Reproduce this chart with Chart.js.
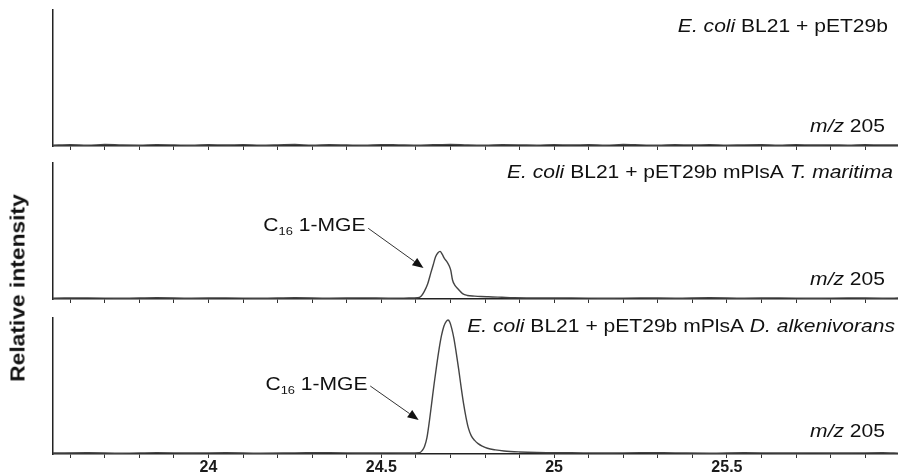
<!DOCTYPE html>
<html>
<head>
<meta charset="utf-8">
<script src="https://cdn.jsdelivr.net/npm/chart.js@4/dist/chart.umd.min.js"></script>
<style>
  html, body { margin: 0; padding: 0; background: #fff; }
  #wrap { position: relative; width: 898px; height: 475px; overflow: hidden; background: #fff; }
  canvas { position: absolute; left: 0; }
  #ylab { position: absolute; left: 18px; top: 288px; transform: translate(-50%, -50%) rotate(-90deg) scaleX(1.17);
          font: bold 19.5px "Liberation Sans", Arial, sans-serif; color: #111; white-space: nowrap; }
</style>
</head>
<body>
<div id="wrap">
  <canvas id="c1" width="898" height="150" style="top:0px"></canvas>
  <canvas id="c2" width="898" height="150" style="top:153px"></canvas>
  <canvas id="c3" width="898" height="167" style="top:308px"></canvas>
  <div id="ylab">Relative intensity</div>
</div>
<script>
// ---------------- DATA ----------------
const xMin = 23.55, xMax = 25.995;
const xTickStep = 0.1;
const xLabelEvery = 0.5;

const topRt = [23.55,23.60,23.65,23.70,23.75,23.80,23.85,23.90,23.95,24.00,24.05,24.10,24.15,24.20,24.25,24.30,24.35,24.40,24.45,24.50,24.55,24.60,24.65,24.70,24.75,24.80,24.85,24.90,24.95,25.00,25.05,25.10,25.15,25.20,25.25,25.30,25.35,25.40,25.45,25.50,25.55,25.60,25.65,25.70,25.75,25.80,25.85,25.90,25.95,26.00];
const topInt = [0.6,0.9,0.5,1.1,0.7,0.6,1.0,0.8,0.5,0.9,0.7,1.0,0.6,0.8,1.1,0.6,0.9,0.7,0.5,1.0,0.8,0.6,0.9,1.2,0.7,0.5,0.9,0.8,0.6,1.0,0.7,0.9,0.6,1.1,0.8,0.5,0.9,0.7,1.0,0.6,0.8,0.9,0.5,1.0,0.7,0.8,0.6,0.9,0.7,0.8];

const midRt = [23.55,23.65,23.75,23.85,23.95,24.05,24.15,24.25,24.35,24.45,24.52,24.58,24.605,24.615,24.624,24.634,24.643,24.650,24.657,24.664,24.670,24.676,24.682,24.691,24.697,24.701,24.706,24.713,24.720,24.735,24.749,24.770,24.788,24.810,24.837,24.860,24.885,24.95,25.05,25.15,25.25,25.35,25.45,25.55,25.65,25.75,25.85,25.95,26.00];
const midInt = [0.6,0.8,0.5,0.9,0.6,0.8,0.5,0.9,0.6,0.8,0.6,0.7,0.9,2.0,5.4,11,19,25,31,34,35,33,30,27,24,21,14,10,7.9,4.0,2.6,2.1,1.8,1.6,1.4,1.1,0.9,0.7,0.8,0.5,0.8,0.6,0.9,0.6,0.8,0.5,0.8,0.6,0.7];

const botRt = [23.55,23.65,23.75,23.85,23.95,24.05,24.15,24.25,24.35,24.45,24.52,24.58,24.610,24.618,24.625,24.632,24.639,24.646,24.653,24.660,24.667,24.674,24.681,24.688,24.693,24.698,24.704,24.710,24.717,24.724,24.731,24.738,24.745,24.752,24.760,24.770,24.780,24.792,24.807,24.830,24.855,24.90,24.95,25.05,25.15,25.25,25.35,25.45,25.55,25.65,25.75,25.85,25.95,26.00];
const botInt = [0.7,0.9,0.6,1.0,0.7,0.9,0.6,0.8,1.0,0.7,0.8,0.7,0.9,2.5,5.5,12,24,38,52,65,77,87,94,97.5,98.5,97,92,85,74,62,49,37,27,19,13.5,10,7.6,5.8,4.2,3.0,2.2,1.5,1.1,0.9,0.7,1.0,0.8,0.6,0.9,0.7,0.8,0.7,0.9,0.6];

const titleTop = [{t:'E. coli', it:true},{t:' BL21 + pET29b'}];
const titleMid = [{t:'E. coli', it:true},{t:' BL21 + pET29b mPlsA '},{t:'T. maritima', it:true}];
const titleBot = [{t:'E. coli', it:true},{t:' BL21 + pET29b mPlsA '},{t:'D. alkenivorans', it:true}];
const ionLabel = [{t:'m/z', it:true},{t:' 205'}];
const peakName = {main:'C', sub:'16', rest:' 1-MGE'};
// annotation anchor points in data units (retention time, intensity)
const midAnnot = {textX:24.454, textY:53.7, fromX:24.462, fromY:52, toX:24.622, toY:22.8};
const botAnnot = {textX:24.460, textY:50.7, fromX:24.468, fromY:50, toX:24.608, toY:25};

// ---------------- DRAWING ----------------
const FONT = '"Liberation Sans", Arial, sans-serif';
const SX = 1.17;   // horizontal text stretch seen in the reference lettering
function pts(xs, ys){ return xs.map((x,i)=>({x:x, y:ys[i]})); }

function drawStretched(ctx, text, x, y){
  ctx.save();
  ctx.translate(x, y);
  ctx.scale(SX, 1);
  ctx.fillText(text, 0, 0);
  ctx.restore();
}

function richRight(ctx, segs, xRight, y, size){
  let x = xRight;
  ctx.textAlign = 'left';
  ctx.textBaseline = 'middle';
  for (let i = segs.length-1; i >= 0; i--){
    ctx.font = (segs[i].it ? 'italic ' : '') + size + 'px ' + FONT;
    const w = ctx.measureText(segs[i].t).width * SX;
    x -= w;
    drawStretched(ctx, segs[i].t, x, y);
  }
}

function drawAnnot(chart, a){
  const ctx = chart.ctx, xs = chart.scales.x, ys = chart.scales.y;
  const tx = xs.getPixelForValue(a.textX), ty = ys.getPixelForValue(a.textY);
  ctx.save();
  ctx.fillStyle = '#111';
  ctx.textBaseline = 'middle';
  ctx.textAlign = 'left';
  ctx.font = '18px ' + FONT;
  const wRest = ctx.measureText(peakName.rest).width * SX;
  const wMain = ctx.measureText(peakName.main).width * SX;
  ctx.font = '11px ' + FONT;
  const wSub = ctx.measureText(peakName.sub).width * SX;
  let x = tx - wRest - wSub - wMain;
  ctx.font = '18px ' + FONT;
  drawStretched(ctx, peakName.main, x, ty); x += wMain;
  ctx.font = '11px ' + FONT;
  drawStretched(ctx, peakName.sub, x, ty + 6); x += wSub;
  ctx.font = '18px ' + FONT;
  drawStretched(ctx, peakName.rest, x, ty);
  // arrow
  const x1 = xs.getPixelForValue(a.fromX), y1 = ys.getPixelForValue(a.fromY);
  const x2 = xs.getPixelForValue(a.toX), y2 = ys.getPixelForValue(a.toY);
  const ang = Math.atan2(y2 - y1, x2 - x1);
  const L = 11, W = 4.5;
  ctx.strokeStyle = '#333';
  ctx.lineWidth = 1;
  ctx.beginPath();
  ctx.moveTo(x1, y1);
  ctx.lineTo(x2 - L*Math.cos(ang), y2 - L*Math.sin(ang));
  ctx.stroke();
  ctx.fillStyle = '#111';
  ctx.beginPath();
  ctx.moveTo(x2, y2);
  ctx.lineTo(x2 - L*Math.cos(ang) + W*Math.sin(ang), y2 - L*Math.sin(ang) - W*Math.cos(ang));
  ctx.lineTo(x2 - L*Math.cos(ang) - W*Math.sin(ang), y2 - L*Math.sin(ang) + W*Math.cos(ang));
  ctx.closePath();
  ctx.fill();
  ctx.restore();
}

function makePanel(id, xs, ys, cfg){
  const labelPlugin = {
    id: 'labels_' + id,
    afterDraw(chart){
      const ctx = chart.ctx, ca = chart.chartArea;
      ctx.save();
      ctx.fillStyle = '#111';
      richRight(ctx, cfg.title, cfg.titleRight, ca.top + cfg.titleDy, 18);
      richRight(ctx, ionLabel, cfg.ionRight, ca.bottom - cfg.ionDy, 18);
      ctx.restore();
      if (cfg.annot) drawAnnot(chart, cfg.annot);
    }
  };
  return new Chart(document.getElementById(id), {
    type: 'line',
    data: { datasets: [{
      data: pts(xs, ys),
      borderColor: '#444',
      borderWidth: 1.4,
      pointRadius: 0,
      fill: false,
      cubicInterpolationMode: 'monotone',
      clip: false
    }]},
    options: {
      responsive: false,
      animation: false,
      layout: { padding: { top: 10, left: 53, right: 0, bottom: 0 } },
      plugins: { legend: { display: false }, tooltip: { enabled: false } },
      scales: {
        x: {
          type: 'linear', min: xMin, max: xMax,
          grid: { display: true, drawOnChartArea: false, drawTicks: true, tickLength: 4, color: '#333', lineWidth: 1 },
          border: { display: true, color: '#222', width: 1.5 },
          ticks: {
            display: cfg.showLabels, stepSize: xTickStep, autoSkip: false, includeBounds: false,
            maxRotation: 0, padding: 0, color: '#1a1a1a',
            font: { family: '"Liberation Sans Narrow", "Arial Narrow", "Liberation Sans", Arial, sans-serif', size: 16, weight: 'bold' },
            callback: (v) => {
              const r = v / xLabelEvery;
              return Math.abs(r - Math.round(r)) < 1e-6 ? String(+v.toFixed(1)) : '';
            }
          },
          afterFit: (s) => { s.height = cfg.axisH; }
        },
        y: {
          min: 0, max: 100,
          grid: { display: false, drawTicks: false },
          border: { display: true, color: '#222', width: 1.5 },
          ticks: { display: false },
          afterFit: (s) => { s.width = 0; }
        }
      }
    },
    plugins: [labelPlugin]
  });
}

makePanel('c1', topRt, topInt, { title: titleTop, titleRight: 888, titleDy: 17, ionRight: 885, ionDy: 19, showLabels: false, axisH: 4 });
makePanel('c2', midRt, midInt, { title: titleMid, titleRight: 893, titleDy: 10, ionRight: 885, ionDy: 19, showLabels: false, axisH: 4, annot: midAnnot });
makePanel('c3', botRt, botInt, { title: titleBot, titleRight: 895, titleDy: 9, ionRight: 885, ionDy: 22, showLabels: true, axisH: 21, annot: botAnnot });
</script>
</body>
</html>
